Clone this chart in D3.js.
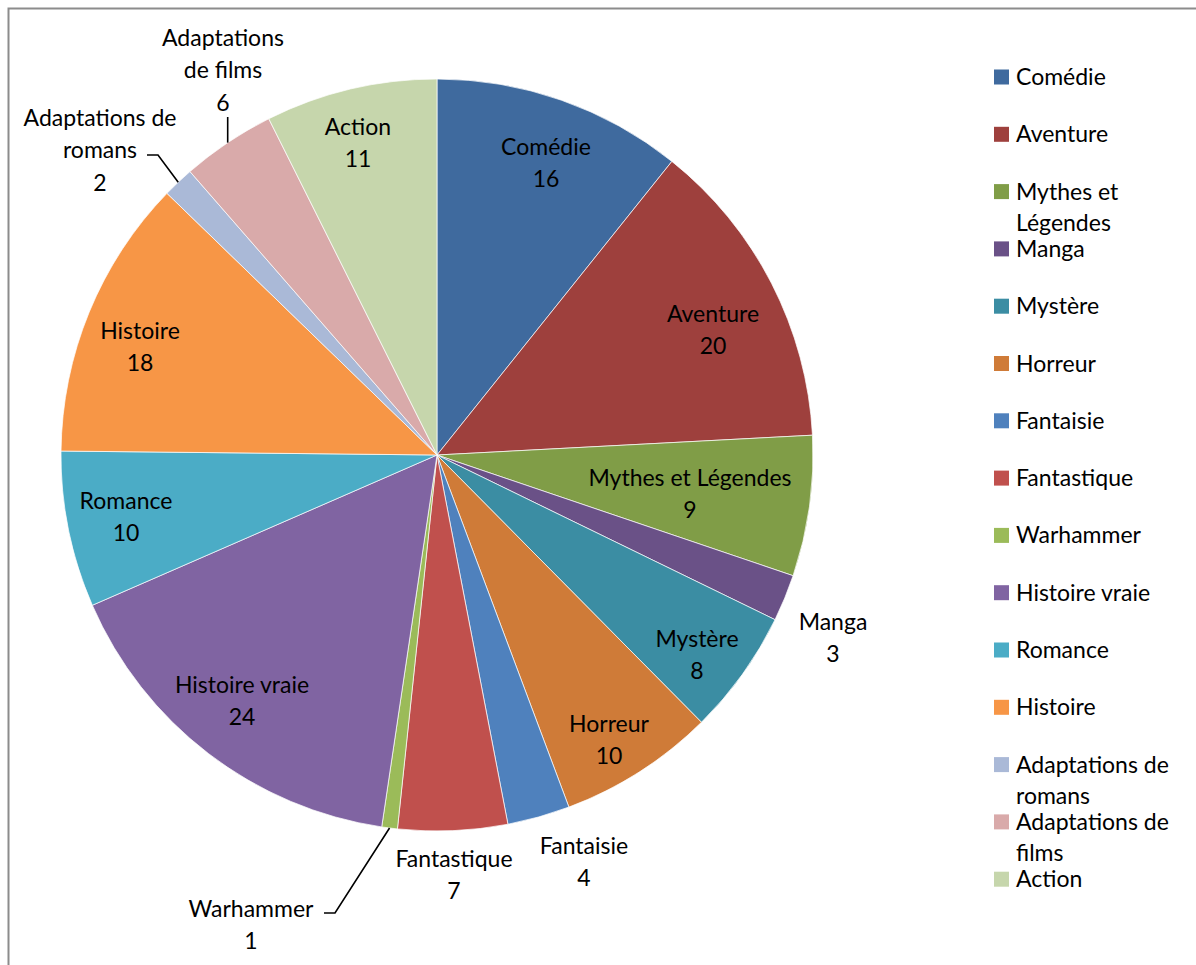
<!DOCTYPE html>
<html>
<head>
<meta charset="utf-8">
<script src="https://cdn.jsdelivr.net/npm/d3@7/dist/d3.min.js"></script>
<style>
  html, body { margin: 0; padding: 0; background: #ffffff; }
  svg { display: block; }
  text { font-family: Lato, "Open Sans", "Noto Sans", sans-serif; fill: #000; }
</style>
</head>
<body>
<svg id="chart" width="1196" height="965"></svg>
<script>
// Genres and number of books in each
const categories = ["Comédie", "Aventure", "Mythes et Légendes", "Manga", "Mystère", "Horreur",
  "Fantaisie", "Fantastique", "Warhammer", "Histoire vraie", "Romance", "Histoire",
  "Adaptations de romans", "Adaptations de films", "Action"];
const counts = [16, 20, 9, 3, 8, 10, 4, 7, 1, 24, 10, 18, 2, 6, 11];
const sliceColors = ["#3F6A9E", "#9E403D", "#809D47", "#6A5187", "#3B8DA3", "#CF7B38",
  "#4F81BD", "#C0504D", "#9BBB59", "#8064A2", "#4BACC6", "#F79646",
  "#AAB9D7", "#D9AAAA", "#C6D6AC"];

// Legend entries, as wrapped in the legend box
const legendLines = [["Comédie"], ["Aventure"], ["Mythes et", "Légendes"], ["Manga"], ["Mystère"],
  ["Horreur"], ["Fantaisie"], ["Fantastique"], ["Warhammer"], ["Histoire vraie"], ["Romance"],
  ["Histoire"], ["Adaptations de", "romans"], ["Adaptations de", "films"], ["Action"]];

// Data label text lines (category lines followed by the value)
const labelLines = [["Comédie"], ["Aventure"], ["Mythes et Légendes"], ["Manga"], ["Mystère"],
  ["Horreur"], ["Fantaisie"], ["Fantastique"], ["Warhammer"], ["Histoire vraie"], ["Romance"],
  ["Histoire"], ["Adaptations de", "romans"], ["Adaptations", "de films"], ["Action"]];

const svg = d3.select("#chart");
const W = 1196, H = 965;

// chart frame
svg.append("rect")
  .attr("x", 8.5).attr("y", 8.5)
  .attr("width", W + 20).attr("height", H + 20)
  .attr("fill", "#fff").attr("stroke", "#8c8c8c").attr("stroke-width", 2);

const cx = 437, cy = 455, R = 376;
const g = svg.append("g").attr("transform", `translate(${cx},${cy})`);

const data = categories.map((c, i) => ({ name: c, value: counts[i], color: sliceColors[i], i }));

const pie = d3.pie().value(d => d.value).sort(null);
const arcs = pie(data);
const arc = d3.arc().innerRadius(0).outerRadius(R);

g.selectAll("path.slice")
  .data(arcs)
  .enter().append("path")
  .attr("class", "slice")
  .attr("d", arc)
  .attr("fill", d => d.data.color)
  .attr("stroke", "#ffffff")
  .attr("stroke-width", 0.7);

const fontSize = 23, lineH = 32.5;
const mid = d => (d.startAngle + d.endAngle) / 2;
const polar = (a, r) => [r * Math.sin(a), -r * Math.cos(a)];

// Page coordinates of each data label block's centre
const labelAnchor = [
  [546, 163], [713, 330], [690, 494], [833, 638], [697, 655], [609, 740],
  [584, 862], [454, 875], [251, 925], [242, 701], [126, 517], [140, 347],
  [100, 150], [223, 70], [358, 143]
];

const labelG = svg.append("g");
arcs.forEach(d => {
  const i = d.data.i;
  const pos = labelAnchor[i];
  const lines = labelLines[i].concat([String(d.data.value)]);
  const n = lines.length;
  const t = labelG.append("text")
    .attr("text-anchor", "middle")
    .attr("font-size", fontSize);
  lines.forEach((ln, k) => {
    t.append("tspan")
      .attr("x", pos[0])
      .attr("y", pos[1] + (k - (n - 1) / 2) * lineH)
      .attr("dy", "0.35em")
      .text(ln);
  });
});

// Leader lines from the slice edge to outside labels
const leader = (d, pts) => {
  const edge = polar(mid(d), R);
  g.append("path")
    .attr("d", d3.line()([edge].concat(pts)))
    .attr("fill", "none").attr("stroke", "#000").attr("stroke-width", 1.6);
};
leader(arcs[8], [[335 - cx, 913 - cy], [324 - cx, 913 - cy]]);
leader(arcs[12], [[158 - cx, 155 - cy], [147 - cx, 155 - cy]]);
leader(arcs[13], [[polar(mid(arcs[13]), R)[0], 117 - cy]]);

// Legend
const legend = svg.append("g");
const legTop = 77, legStep = 57.3, legWrap = 31;
legendLines.forEach((lines, i) => {
  const y = legTop + i * legStep;
  legend.append("rect")
    .attr("x", 994).attr("y", y - 7.5)
    .attr("width", 15).attr("height", 15)
    .attr("fill", sliceColors[i]);
  const t = legend.append("text").attr("font-size", fontSize);
  lines.forEach((ln, k) => {
    t.append("tspan").attr("x", 1016).attr("y", y + k * legWrap).attr("dy", "0.35em").text(ln);
  });
});
</script>
</body>
</html>
